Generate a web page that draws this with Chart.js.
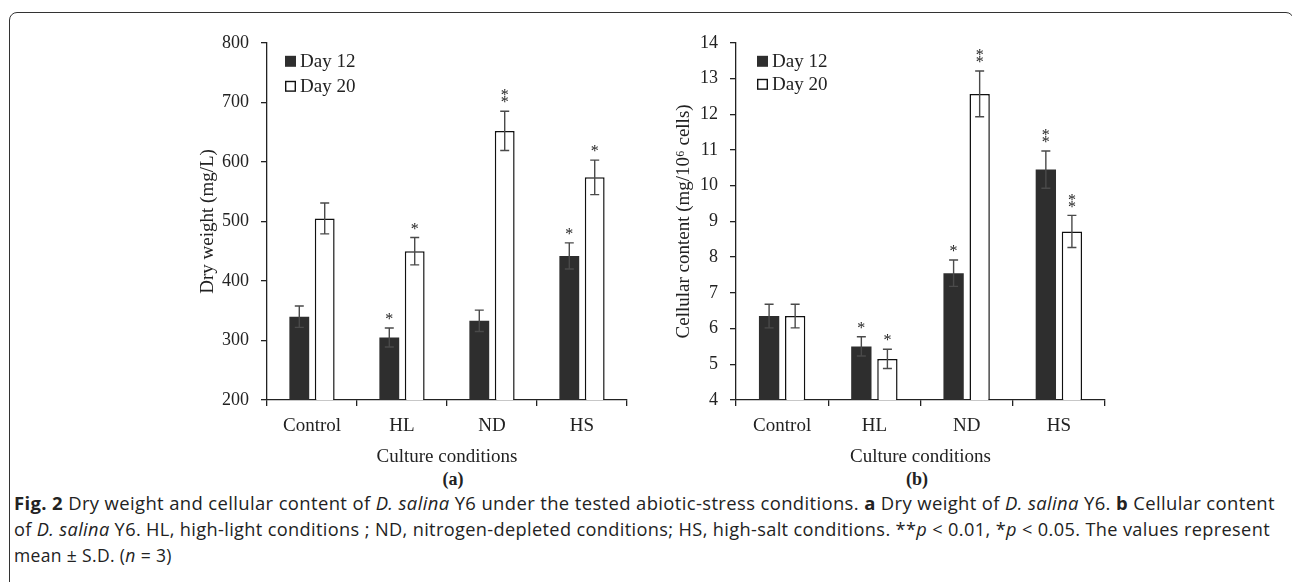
<!DOCTYPE html>
<html lang="en">
<head>
  <meta charset="UTF-8" />
  <title>Fig. 2 — Dry weight and cellular content</title>
  <script src="https://cdn.jsdelivr.net/npm/chart.js"></script>
  <style>
    body { margin: 0; width: 1292px; height: 582px; background: #fff; overflow: hidden; position: relative; }
    .frame { position: absolute; left: 9px; top: 12px; width: 1285px; height: 620px; border: 1.5px solid #333; border-radius: 8px; box-sizing: border-box; }
    #chartA { position: absolute; left: 150px; top: 20px; }
    #chartB { position: absolute; left: 640px; top: 20px; }
    .panel { position: absolute; top: 469px; font: bold 18px "Liberation Serif", serif; color: #222; transform: translateX(-50%); }
    .caption { position: absolute; left: 14px; top: 490px; font: 17.5px "Open Sans", sans-serif; color: #222; line-height: 26px; white-space: nowrap; letter-spacing: 0.35px; }
  </style>
</head>
<body>
  <div class="frame"></div>
  <canvas id="chartA" width="490" height="448"></canvas>
  <canvas id="chartB" width="478" height="448"></canvas>
  <div class="panel" style="left:453px">(a)</div>
  <div class="panel" style="left:917px">(b)</div>
  <div class="caption">
    <div class="ln"><b>Fig. 2</b> Dry weight and cellular content of <i>D. salina</i> Y6 under the tested abiotic-stress conditions. <b>a</b> Dry weight of <i>D. salina</i> Y6. <b>b</b> Cellular content</div>
    <div class="ln">of <i>D. salina</i> Y6. HL, high-light conditions ; ND, nitrogen-depleted conditions; HS, high-salt conditions. **<i>p</i> &lt; 0.01, *<i>p</i> &lt; 0.05. The values represent</div>
    <div>mean ± S.D. (<i>n</i> = 3)</div>
  </div>

  <script>
    // data
    const conditions = ['Control', 'HL', 'ND', 'HS'];
    const seriesNames = ['Day 12', 'Day 20'];

    // (a) dry weight, mg/L
    const dryDay12 = [340, 305, 333, 442];
    const dryDay12Sd = [18, 16, 18, 22];
    const dryDay12Sig = ['', '*', '', '*'];
    const dryDay20 = [505, 450, 652, 574];
    const dryDay20Sd = [26, 23, 33, 29];
    const dryDay20Sig = ['', '*', '**', '*'];

    // (b) cellular content, mg/10^6 cells
    const cellDay12 = [6.35, 5.5, 7.55, 10.45];
    const cellDay12Sd = [0.33, 0.27, 0.37, 0.52];
    const cellDay12Sig = ['', '*', '*', '**'];
    const cellDay20 = [6.35, 5.15, 12.57, 8.72];
    const cellDay20Sd = [0.33, 0.27, 0.64, 0.45];
    const cellDay20Sig = ['', '*', '**', '**'];

    const SERIF = '"Liberation Serif", "Times New Roman", serif';
    const INK = '#222';
    const DARK = '#2e2e2e';

    // error bars, significance stars and the in-plot legend
    const extras = {
      id: 'extras',
      afterDatasetsDraw(chart, args, opts) {
        const ctx = chart.ctx;
        const y = chart.scales.y;
        const area = chart.chartArea;
        ctx.save();
        chart.data.datasets.forEach((ds, i) => {
          const meta = chart.getDatasetMeta(i);
          meta.data.forEach((bar, j) => {
            const v = ds.data[j], sd = ds.sd[j];
            const top = y.getPixelForValue(v + sd);
            const bot = y.getPixelForValue(v - sd);
            ctx.strokeStyle = '#4a4a4a';
            ctx.lineWidth = 1.4;
            ctx.beginPath();
            ctx.moveTo(bar.x, top); ctx.lineTo(bar.x, bot);
            ctx.moveTo(bar.x - 4.5, top); ctx.lineTo(bar.x + 4.5, top);
            ctx.moveTo(bar.x - 4.5, bot); ctx.lineTo(bar.x + 4.5, bot);
            ctx.stroke();
            const s = ds.sig[j];
            ctx.fillStyle = INK;
            ctx.font = '16px ' + SERIF;
            ctx.textAlign = 'center';
            ctx.textBaseline = 'middle';
            if (s.length >= 1) ctx.fillText('*', bar.x, top - 8);
            if (s.length >= 2) ctx.fillText('*', bar.x, top - 15);
          });
        });
        // legend
        chart.data.datasets.forEach((ds, i) => {
          const lx = area.left + opts.dx;
          const ly = area.top + opts.dy + i * opts.gap;
          if (ds.borderWidth) {
            ctx.fillStyle = '#fff';
            ctx.fillRect(lx, ly, 11, 11);
            ctx.strokeStyle = '#111';
            ctx.lineWidth = 1.4;
            ctx.strokeRect(lx + 0.7, ly + 0.7, 9.6, 9.6);
          } else {
            ctx.fillStyle = DARK;
            ctx.fillRect(lx, ly, 11, 11);
          }
          ctx.fillStyle = INK;
          ctx.font = '19px ' + SERIF;
          ctx.textAlign = 'left';
          ctx.textBaseline = 'alphabetic';
          ctx.fillText(ds.label, lx + 15, ly + 11);
        });
        ctx.restore();
      }
    };

    function makeChart(id, d12, sd12, sig12, d20, sd20, sig20, yMin, yMax, yTitle, yWidth, yTitlePad, legendPos) {
      return new Chart(document.getElementById(id), {
        type: 'bar',
        data: {
          labels: conditions,
          datasets: [
            { label: seriesNames[0], data: d12, sd: sd12, sig: sig12, backgroundColor: DARK, borderWidth: 0 },
            { label: seriesNames[1], data: d20, sd: sd20, sig: sig20, backgroundColor: '#fff', borderColor: '#111', borderWidth: 1.5 }
          ]
        },
        options: {
          responsive: false,
          devicePixelRatio: 1,
          animation: false,
          categoryPercentage: 0.565,
          barPercentage: 0.78,
          layout: { padding: { top: 16, right: 13, left: 0, bottom: 0 } },
          plugins: {
            legend: { display: false },
            tooltip: { enabled: false },
            extras: legendPos
          },
          scales: {
            x: {
              grid: { display: true, offset: true, drawOnChartArea: false, drawTicks: true, tickLength: 6, color: INK, lineWidth: 1.3 },
              border: { display: true, color: INK, width: 1.3 },
              ticks: { color: INK, font: { family: SERIF, size: 19 }, padding: 9 },
              title: { display: true, text: 'Culture conditions', color: INK, font: { family: SERIF, size: 19 }, padding: { top: 0, bottom: 0 } },
              afterFit(s) { s.height = 68; }
            },
            y: {
              min: yMin, max: yMax,
              grid: { display: true, drawOnChartArea: false, drawTicks: true, tickLength: 6, color: INK, lineWidth: 1.3 },
              border: { display: true, color: INK, width: 1.3 },
              ticks: { stepSize: yMin < 100 ? 1 : 100, color: INK, font: { family: SERIF, size: 18 }, padding: 12 },
              title: { display: true, text: yTitle, color: INK, font: { family: SERIF, size: 19 }, padding: { top: yTitlePad, bottom: 0 } },
              afterFit(s) { s.width = yWidth; }
            }
          }
        },
        plugins: [extras]
      });
    }

    makeChart('chartA', dryDay12, dryDay12Sd, dryDay12Sig, dryDay20, dryDay20Sd, dryDay20Sig,
      200, 800, 'Dry weight (mg/L)', 117, 47, { dx: 18, dy: 13, gap: 25 });
    makeChart('chartB', cellDay12, cellDay12Sd, cellDay12Sig, cellDay20, cellDay20Sd, cellDay20Sig,
      4, 14, 'Cellular content (mg/10\u2076 cells)', 96, 33, { dx: 21, dy: 13, gap: 23 });

    // stretch the first two caption lines to the measured width of the original
    document.querySelectorAll('.caption .ln').forEach(el => {
      el.style.display = 'inline-block';
      const w = el.getBoundingClientRect().width;
      const target = el === document.querySelector('.caption .ln') ? 1261 : 1256;
      el.style.transformOrigin = '0 0';
      el.style.transform = 'scaleX(' + (target / w) + ')';
      el.style.display = 'block';
    });
  </script>
</body>
</html>
